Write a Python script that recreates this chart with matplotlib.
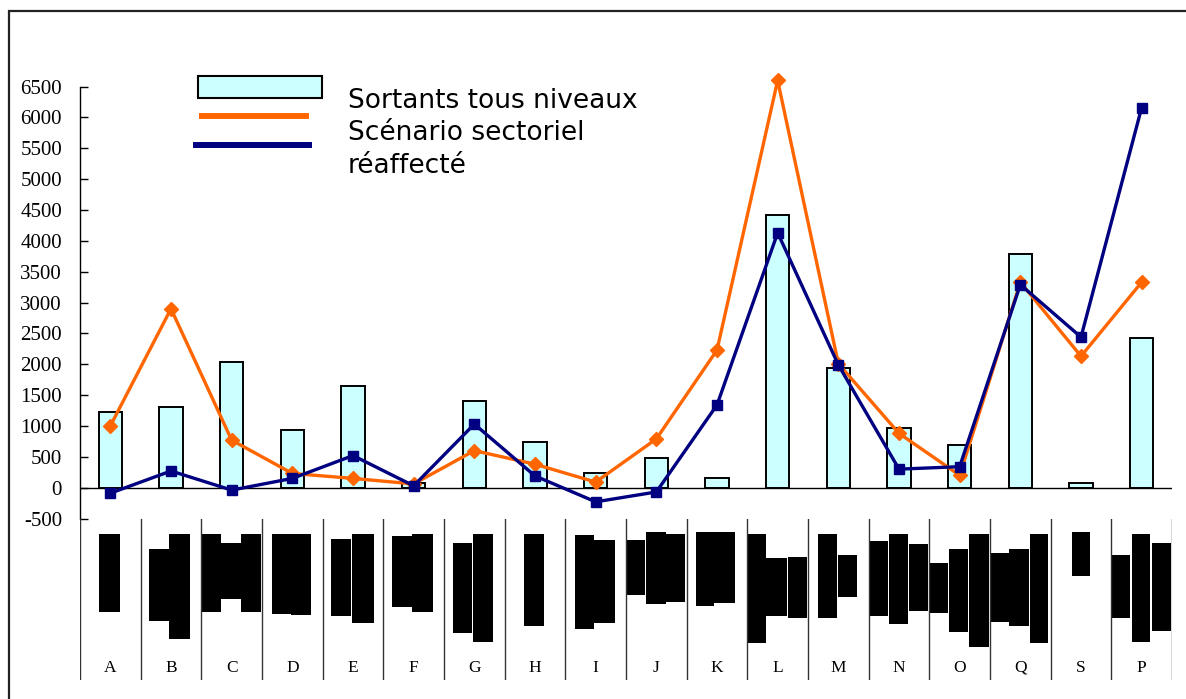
import matplotlib
matplotlib.use("Agg")
import matplotlib.pyplot as plt
from matplotlib.patches import Rectangle
from matplotlib.lines import Line2D
import numpy as np

# ---- data ----
categories = ['A', 'B', 'C', 'D', 'E', 'F', 'G', 'H', 'I', 'J', 'K', 'L', 'M', 'N', 'O', 'Q', 'S', 'P']
sortants = [1220, 1300, 2030, 930, 1640, 80, 1400, 740, 230, 480, 150, 4420, 1940, 960, 690, 3780, 80, 2420]
scenario = [1000, 2900, 770, 230, 150, 60, 600, 380, 90, 790, 2230, 6600, 2010, 880, 200, 3330, 2130, 3330]
reaffecte = [-90, 270, -40, 150, 520, 30, 1030, 190, -230, -70, 1340, 4130, 1990, 300, 340, 3290, 2440, 6160]
yticks = list(range(-500, 7000, 500))
legend_labels = ["Sortants tous niveaux", "Scénario sectoriel", "réaffecté"]

# garbled (blacked-out) category-label blocks, in figure pixels (x0, x1, y0, y1)
label_blocks = [
    (99, 120, 534, 612),
    (149, 169, 549, 621), (169, 190, 534, 639),
    (201, 221, 534, 612), (221, 241, 543, 599), (241, 261, 534, 612),
    (272, 291, 534, 614), (291, 311, 534, 615),
    (331, 351, 539, 616), (352, 374, 534, 623),
    (392, 412, 536, 607), (412, 433, 534, 612),
    (453, 472, 543, 633), (473, 493, 534, 642),
    (524, 544, 534, 626),
    (575, 594, 535, 629), (594, 615, 540, 623),
    (626, 645, 540, 595), (646, 666, 532, 604), (666, 685, 534, 602),
    (696, 714, 532, 606), (714, 735, 532, 603),
    (747, 766, 534, 643), (766, 787, 558, 616), (788, 807, 557, 618),
    (818, 837, 534, 618), (838, 857, 555, 597),
    (869, 888, 541, 616), (889, 908, 534, 624), (909, 928, 544, 611),
    (929, 948, 563, 613), (949, 968, 549, 632), (969, 989, 534, 647),
    (990, 1009, 553, 622), (1009, 1029, 549, 626), (1030, 1048, 534, 643),
    (1072, 1090, 532, 576),
    (1112, 1130, 555, 618), (1132, 1150, 534, 642), (1152, 1171, 543, 631),
]

W, H = 1186, 699
fig = plt.figure(figsize=(W / 100, H / 100), dpi=100)
fig.patch.set_facecolor('white')

CYAN = '#CCFFFF'
ORANGE = '#FF6600'
NAVY = '#000080'

# main axes
ax_left, ax_right = 80, 1172
ax_top, ax_bot = 86.6, 518.5
ax = fig.add_axes([ax_left / W, 1 - ax_bot / H, (ax_right - ax_left) / W, (ax_bot - ax_top) / H])
x = np.arange(len(categories))
ax.bar(x, sortants, width=0.39, color=CYAN, edgecolor='black', linewidth=1.4, zorder=2)
ax.axhline(0, color='black', linewidth=1.0, zorder=3)
ax.plot(x, scenario, color=ORANGE, linewidth=2.4, marker='D', markersize=7,
        markerfacecolor=ORANGE, markeredgecolor=ORANGE, zorder=4, clip_on=False)
ax.plot(x, reaffecte, color=NAVY, linewidth=2.4, marker='s', markersize=7,
        markerfacecolor=NAVY, markeredgecolor=NAVY, zorder=5, clip_on=False)

ax.set_xlim(-0.5, len(categories) - 0.5)
ax.set_ylim(-500, 6500)
ax.set_yticks(yticks)
ax.set_yticklabels([str(v) for v in yticks], fontfamily='Liberation Serif', fontsize=15)
ax.tick_params(axis='y', direction='in', length=6, width=1, pad=13, colors='black')
ax.set_xticks([])
for s in ['top', 'right', 'bottom']:
    ax.spines[s].set_visible(False)
ax.spines['left'].set_linewidth(1.0)
ax.set_facecolor('none')

# lower category band
axb = fig.add_axes([ax_left / W, 1 - 680 / H, (ax_right - ax_left) / W, (680 - ax_bot) / H])
axb.set_xlim(-0.5, len(categories) - 0.5)
axb.set_ylim(0, 1)
axb.axis('off')
for k in range(len(categories) + 1):
    axb.axvline(k - 0.5, color='#333333', linewidth=1.0)
for i, c in enumerate(categories):
    axb.text(i, 0.075, c, ha='center', va='center', fontfamily='Liberation Serif', fontsize=12.5)

# overlay for frame, blocks, legend (figure pixels)
ov = fig.add_axes([0, 0, 1, 1], zorder=-1)
ov.set_xlim(0, W)
ov.set_ylim(H, 0)
ov.axis('off')
ov.plot([9, 9, W], [H, 11, 11], color='#222222', linewidth=1.6, solid_joinstyle='miter')
for (x0, x1, y0, y1) in label_blocks:
    ov.add_patch(Rectangle((x0, y0), x1 - x0, y1 - y0, facecolor='black', edgecolor='none'))

ov2 = fig.add_axes([0, 0, 1, 1], zorder=10)
ov2.set_xlim(0, W)
ov2.set_ylim(H, 0)
ov2.axis('off')
ov2.add_patch(Rectangle((198, 76), 124, 22, facecolor=CYAN, edgecolor='black', linewidth=1.5))
ov2.add_line(Line2D([199, 309], [116, 116], color=ORANGE, linewidth=4.3, solid_capstyle='butt'))
ov2.add_line(Line2D([193, 312], [145, 145], color=NAVY, linewidth=4.3, solid_capstyle='butt'))
for j, lab in enumerate(legend_labels):
    ov2.text(348, 108 + 32.5 * j, lab, ha='left', va='baseline',
             fontfamily='DejaVu Sans', fontsize=19, color='black')

fig.savefig('out.png', dpi=100)
